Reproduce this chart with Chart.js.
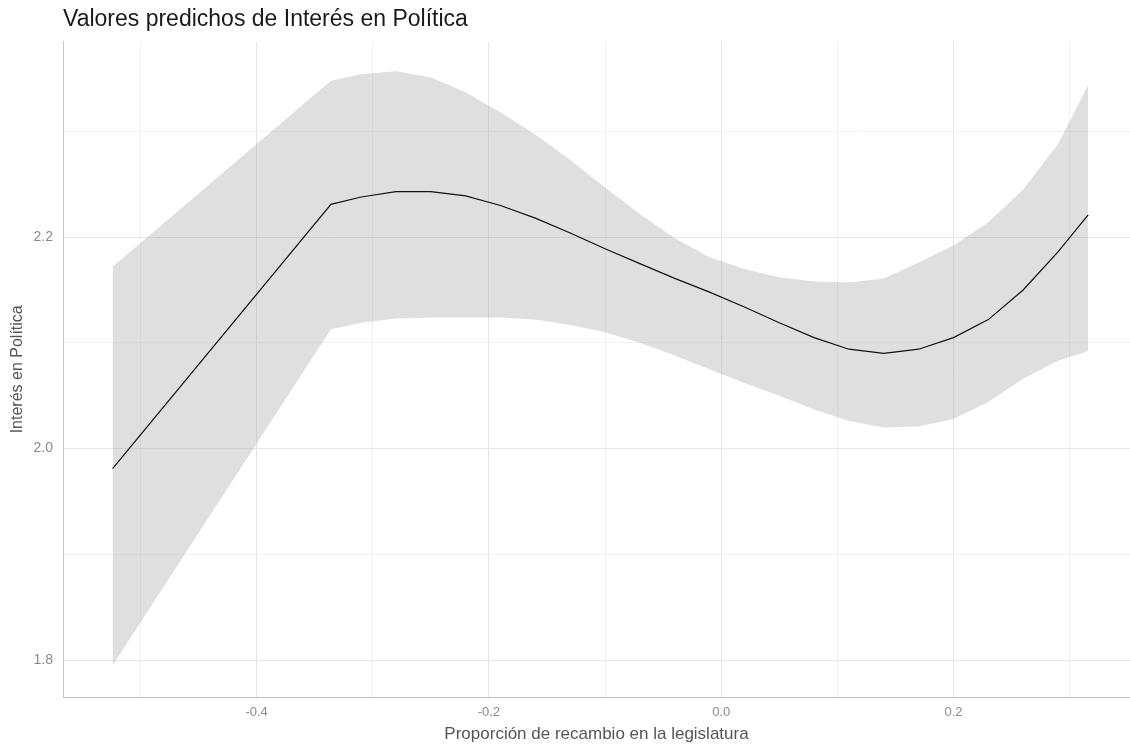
<!DOCTYPE html>
<html lang="es">
<head>
  <meta charset="UTF-8" />
  <title>Valores predichos de Interés en Política</title>
  <style>
    html, body { margin: 0; padding: 0; background: #fff; }
    #wrap { width: 1130px; height: 748px; }
  </style>
</head>
<body>

<div id="wrap">
  <canvas id="predChart" width="1130" height="748"></canvas>
</div>

<script src="https://cdn.jsdelivr.net/npm/chart.js"></script>
<script>
  // proporción de recambio (x) and predicted values with confidence band
  const recambio = [-0.524, -0.336, -0.31, -0.28, -0.25, -0.22, -0.19, -0.16, -0.13, -0.10,
                    -0.07, -0.04, -0.01, 0.02, 0.05, 0.08, 0.11, 0.14, 0.17, 0.20, 0.23, 0.26, 0.29, 0.316];
  const predicho = [1.981, 2.231, 2.238, 2.243, 2.243, 2.239, 2.230, 2.218, 2.204, 2.189,
                    2.175, 2.161, 2.148, 2.134, 2.119, 2.105, 2.094, 2.090, 2.094, 2.105, 2.122, 2.150, 2.186, 2.221];
  const superior = [2.172, 2.348, 2.354, 2.357, 2.351, 2.337, 2.318, 2.297, 2.273, 2.247,
                    2.222, 2.199, 2.181, 2.170, 2.162, 2.158, 2.157, 2.161, 2.176, 2.192, 2.214, 2.245, 2.288, 2.344];
  const inferior = [1.795, 2.113, 2.119, 2.123, 2.124, 2.124, 2.124, 2.122, 2.117, 2.110,
                    2.100, 2.088, 2.075, 2.062, 2.050, 2.037, 2.026, 2.020, 2.021, 2.028, 2.044, 2.066, 2.083, 2.092];

  // grid positions; only the even ones get a label
  const xGrid = [-0.5, -0.4, -0.3, -0.2, -0.1, 0.0, 0.1, 0.2, 0.3];
  const xLabels = [-0.4, -0.2, 0.0, 0.2];
  const yGrid = [1.8, 1.9, 2.0, 2.1, 2.2, 2.3];
  const yLabels = [1.8, 2.0, 2.2];

  const pts = vals => recambio.map((x, i) => ({ x: x, y: vals[i] }));
  const isLabel = (list, v) => list.some(l => Math.abs(l - v) < 1e-6);

  const gridColor = list => ctx => {
    if (!ctx.tick) return '#ebebeb';
    return isLabel(list, ctx.tick.value) ? '#e6e6e6' : '#f2f2f2';
  };

  const font = 'Liberation Sans, Arial, sans-serif';

  new Chart(document.getElementById('predChart'), {
    type: 'scatter',
    data: {
      datasets: [
        {
          label: 'superior',
          data: pts(superior),
          showLine: true,
          borderWidth: 0,
          pointRadius: 0,
          backgroundColor: 'rgba(150,150,150,0.3)',
          fill: '+1',
          order: 2
        },
        {
          label: 'inferior',
          data: pts(inferior),
          showLine: true,
          borderWidth: 0,
          pointRadius: 0,
          fill: false,
          order: 2
        },
        {
          label: 'predicho',
          data: pts(predicho),
          showLine: true,
          borderColor: '#111',
          borderWidth: 1.2,
          pointRadius: 0,
          fill: false,
          order: 1
        }
      ]
    },
    options: {
      responsive: false,
      animation: false,
      layout: { padding: 0 },
      plugins: {
        legend: { display: false },
        tooltip: { enabled: false },
        title: {
          display: true,
          text: 'Valores predichos de Interés en Política',
          align: 'start',
          fullSize: false,
          color: '#1a1a1a',
          font: { family: font, size: 23, weight: 'normal', lineHeight: 1.2 },
          padding: { top: 6, bottom: 8 }
        }
      },
      scales: {
        x: {
          type: 'linear',
          min: -0.5667,
          max: 0.352,
          afterBuildTicks: s => { s.ticks = xGrid.map(v => ({ value: v })); },
          afterFit: s => { s.height = 51; },
          grid: { color: gridColor(xLabels), lineWidth: 1, drawTicks: false },
          border: { display: true, color: '#c4c4c4', width: 1 },
          ticks: {
            padding: 8,
            color: '#8a8a8a',
            font: { family: font, size: 13 },
            callback: v => isLabel(xLabels, v) ? v.toFixed(1) : ''
          },
          title: {
            display: true,
            text: 'Proporción de recambio en la legislatura',
            color: '#555',
            font: { family: font, size: 17, lineHeight: 1.2 },
            padding: { top: 3, bottom: 3 }
          }
        },
        y: {
          type: 'linear',
          min: 1.765,
          max: 2.385,
          afterBuildTicks: s => { s.ticks = yGrid.map(v => ({ value: v })); },
          afterFit: s => { s.width = 63; },
          grid: { color: gridColor(yLabels), lineWidth: 1, drawTicks: false },
          border: { display: true, color: '#c4c4c4', width: 1 },
          ticks: {
            padding: 10,
            color: '#8a8a8a',
            font: { family: font, size: 14 },
            callback: v => isLabel(yLabels, v) ? v.toFixed(1) : ''
          },
          title: {
            display: true,
            text: 'Interés en Política',
            color: '#555',
            font: { family: font, size: 16, lineHeight: 1.2 },
            padding: { top: 8, bottom: 8 }
          }
        }
      }
    }
  });
</script>

</body>
</html>
